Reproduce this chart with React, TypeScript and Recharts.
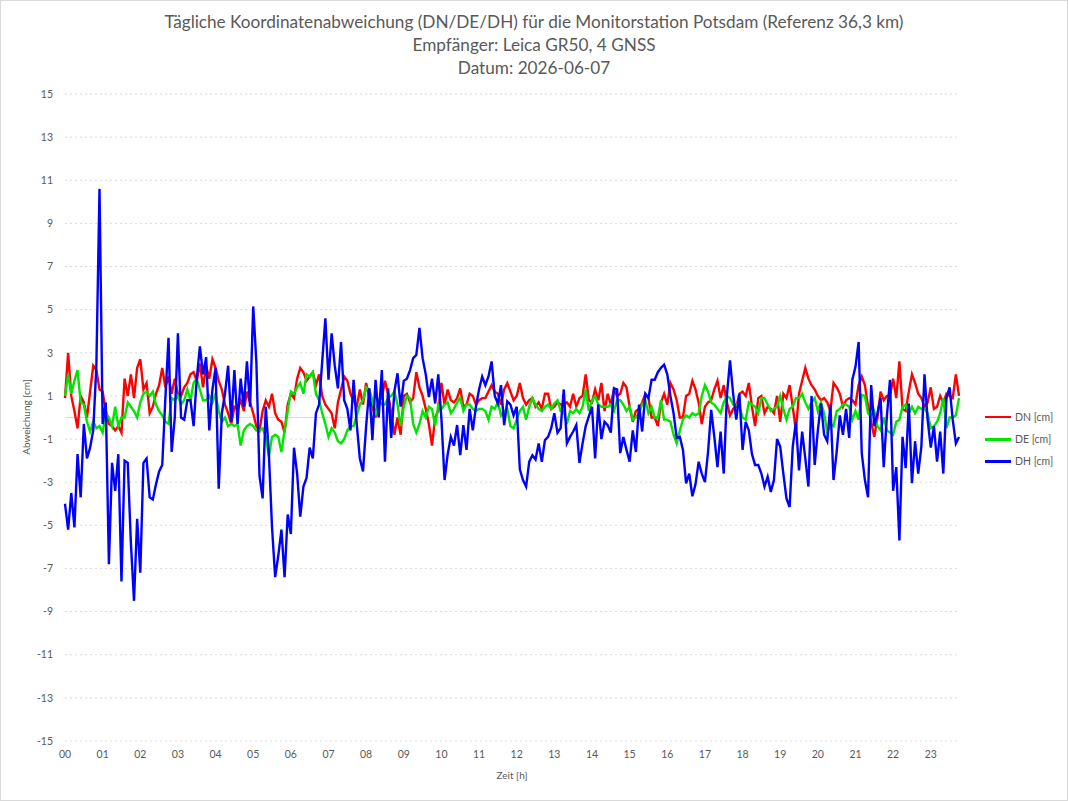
import { CartesianGrid, Line, LineChart, ReferenceLine, XAxis, YAxis } from 'recharts'

// 5-minute samples, 00:00 .. 23:45
const STEP_MIN = 5

const DN = [
  0.9, 3.0, 1.0, 0.3, -0.5, 1.0, 0.7, 0.0, 1.2, 2.4, 2.2, 1.3,
  1.2, 0.3, -0.3, -0.4, -0.6, -0.4, -0.7, 1.8, 1.0, 2.0, 0.9, 2.3,
  2.7, 1.3, 1.6, 0.2, 0.5, 1.1, 1.5, 2.3, 1.4, 1.9, 1.1, 1.8,
  1.1, 1.0, 1.4, 1.6, 2.0, 2.1, 1.7, 2.5, 1.4, 2.4, 1.8, 2.7,
  2.3, 1.7, 1.3, 0.6, 0.2, -0.3, 0.5, 0.4, 0.8, 0.3, 1.2, 0.7,
  0.2, -0.4, -0.6, 0.3, 0.8, 0.5, 1.1, 0.2, -0.1, -0.2, -0.7, 0.6,
  1.1, 0.9, 1.8, 2.3, 2.1, 1.7, 1.9, 2.1, 1.5, 2.0, 1.0, 0.6,
  0.4, 0.2, -0.5, 0.7, 1.3, 1.9, 1.7, 1.1, 0.8, 0.5, 1.3, 0.6,
  1.6, 0.9, 0.5, 0.0, 0.8, 0.9, 1.7, 1.1, 0.2, -0.8, 0.0, -0.8,
  1.0, 1.1, 0.7, 0.9, 2.1, 1.4, 1.0, 0.4, -0.3, -1.3, 0.0, 0.3,
  1.6, 0.6, 1.3, 0.8, 0.7, 0.9, 1.35, 0.5, 0.6, 1.1, 1.0, 0.6,
  0.8, 0.9, 0.9, 1.2, 1.5, 1.2, 1.1, 0.6, 1.3, 1.6, 1.2, 0.8,
  1.0, 1.6, 0.9, 0.6, 0.8, 0.9, 0.5, 0.7, 0.4, 1.1, 1.1, 0.4,
  0.5, 0.7, 0.6, 0.6, 0.7, 0.5, 1.1, 0.5, 0.9, 1.0, 2.0, 0.8,
  0.7, 1.3, 0.8, 1.6, 0.3, 1.1, 0.6, 1.3, 1.0, 1.1, 1.6, 1.4,
  0.5, -0.2, 0.3, 0.4, 0.7, 1.1, 0.9, 0.0, 0.0, -0.4, 0.7, 1.1,
  0.6, 1.6, 1.3, 0.8, 0.0, 0.0, 1.0, 1.1, 1.7, 1.3, 0.7, -0.3,
  0.5, 0.7, 0.8, 1.3, 1.7, 0.9, 1.5, 0.7, 0.1, 0.4, 0.5, 1.1,
  1.2, 1.0, 1.6, 0.5, -0.4, 0.9, 1.0, 0.2, 0.5, 0.4, 0.2, 1.0,
  -0.2, 1.1, 0.9, 1.5, 0.5, -0.6, 1.1, 1.7, 2.3, 1.8, 1.5, 1.3,
  1.0, 0.8, 0.9, 0.7, 0.3, 1.6, 1.4, 1.1, 0.5, 0.8, 0.9, 0.8,
  0.6, 1.5, 1.9, 1.5, 0.5, -0.2, -0.9, 0.0, 1.2, 0.8, 1.0, 1.0,
  1.8, 0.9, 2.6, 0.4, 0.3, 1.2, 2.0, 1.6, 1.1, 0.9, 0.5, 0.7,
  1.4, 0.4, 0.5, 1.0, 0.7, 1.1, 1.0, 0.9, 2.0, 1.0
]

const DE = [
  1.0, 2.0, 1.1, 1.7, 2.2, 0.7, 0.6, -0.2, -0.65, -0.2, -0.5, -0.4,
  -0.7, 0.2, 0.0, -0.4, 0.5, -0.4, 0.0, 0.0, 0.7, 0.5, 0.3, 0.0,
  0.7, 1.1, 1.2, 1.0, 1.2, 0.6, 0.3, 0.1, -0.2, -0.3, 0.9, 0.8,
  1.0, 0.6, 0.8, 1.3, 0.8, 1.6, 1.8, 1.3, 0.8, 0.8, 1.0, 0.7,
  1.1, 0.3, -0.2, 0.0, -0.4, -0.3, -0.4, -0.3, -1.3, -0.6, -0.4, -0.3,
  -0.4, -0.6, -0.6, -0.5, -0.9, -1.8, -0.9, -0.8, -0.9, -1.6, -0.6, 0.3,
  1.2, 1.1, 1.4, 1.6, 1.1, 2.0, 1.9, 2.1, 1.1, 0.8, 0.2, -0.3,
  -0.9, -0.5, -0.7, -1.1, -1.2, -1.0, -0.6, -0.4, -0.4, 0.1, 0.6, 0.8,
  1.4, 1.3, 0.8, 0.1, 0.8, 0.6, 0.6, 0.9, 1.0, 1.2, 0.6, -0.4,
  0.5, 1.0, 0.9, -0.3, -0.7, -0.3, 0.3, 0.0, 0.5, 0.4, -0.4, 0.6,
  0.4, 0.6, 0.7, 0.2, 0.4, 0.7, 0.9, 0.3, 0.6, 0.6, 0.4, 0.3,
  0.4, 0.4, 0.3, -0.1, 0.5, 0.4, 0.7, 0.1, 0.3, 0.4, -0.4, -0.5,
  -0.1, 0.3, 0.5, -0.1, 0.5, 0.9, 0.6, 0.4, 0.3, 0.5, 0.6, 0.4,
  0.65, 0.8, 0.3, 0.3, -0.3, 0.3, 0.2, 0.4, 0.2, 0.5, 1.3, 0.3,
  0.8, 1.0, 0.6, 0.5, 0.5, 0.5, 0.6, 0.3, 0.8, 0.8, 0.6, 0.3,
  0.5, -0.1, 0.0, 0.2, 0.6, 0.8, 0.2, 0.5, 0.0, 0.0, 0.8, -0.1,
  -0.1, -0.2, -0.8, -1.2, -0.6, -0.1, 0.1, 0.0, 0.2, 0.1, 0.2, 1.0,
  1.5, 1.2, 0.7, 0.6, 0.4, 0.2, 0.7, 1.0, 0.9, 0.6, 0.6, 0.5,
  0.0, -0.1, 0.7, 0.6, 0.5, 0.2, 0.9, 0.9, 0.6, 0.3, 0.4, 0.5,
  1.0, 0.4, -0.1, 0.4, 0.5, 0.9, 0.9, 1.1, 0.7, 0.4, 0.7, 0.9,
  0.3, 0.7, 0.2, -0.7, -0.3, -0.4, 0.3, 0.4, 0.6, 0.6, 0.5, -0.1,
  0.3, -0.1, 1.05, 1.0, 0.2, 0.1, 0.3, -0.4, -0.6, 0.0, -0.6, -0.7,
  -0.8, -0.2, -0.1, 0.5, 0.6, 0.2, 0.5, 0.2, 0.5, 0.4, 0.4, 0.2,
  -0.5, -0.4, -0.2, 0.2, 0.9, -0.5, 0.0, 0.0, 0.1, 0.9
]

const DH = [
  -4.0, -5.2, -3.5, -5.1, -1.7, -3.7, -0.3, -1.9, -1.4, -0.6, 2.4, 10.6,
  -0.3, 0.7, -6.8, -2.1, -3.4, -1.7, -7.6, -2.0, -2.1, -5.8, -8.5, -4.7,
  -7.2, -2.1, -1.9, -3.7, -3.8, -3.1, -2.5, -2.2, 0.9, 3.7, -1.6, 0.0,
  3.9, 0.0, -0.1, 0.8, 0.8, -0.4, 1.8, 3.3, 2.0, 2.8, -0.6, 1.3,
  2.3, -3.3, 0.2, 1.1, 2.4, -0.2, 2.2, -0.3, 1.8, 0.5, 2.6, 0.5,
  5.15, 2.6, -2.7, -3.75, 0.5, -1.7, -5.1, -7.4, -6.4, -5.2, -7.4, -4.5,
  -5.4, -1.4, -2.6, -4.6, -3.2, -2.8, -1.4, -1.9, 0.2, 0.6, 2.6, 4.6,
  1.75, 3.9, 2.4, 1.35, 3.5, 0.8, 0.4, -0.6, 1.75, -0.3, -1.9, -2.5,
  -0.4, 1.35, -1.05, 1.75, 0.0, 2.2, -2.05, 1.35, -0.95, 1.2, 2.05, 0.5,
  1.7, 1.8, 2.2, 2.75, 2.9, 4.15, 2.75, 2.0, 0.95, 1.8, 0.65, 2.0,
  -0.05, -2.9, -1.7, -0.9, -1.3, -0.35, -1.75, -0.35, -1.5, 0.4, -0.6, 0.5,
  1.3, 1.9, 1.5, 1.9, 2.6, 1.0, 0.65, 1.5, -0.35, 0.75, 0.6, 0.1,
  0.5, -2.4, -2.9, -3.2, -2.05, -1.75, -1.95, -1.2, -2.05, -1.05, -0.9, -0.5,
  0.2, -0.7, -0.5, 1.3, -1.2, -0.9, -0.65, -0.35, -2.1, -1.2, -0.4, 0.05,
  0.5, -1.9, 0.6, -1.0, -0.2, -0.35, -0.7, 1.35, 1.3, -1.65, -0.9, -1.5,
  -2.05, -0.6, -1.6, 0.6, -0.65, 1.1, 0.9, 1.75, 1.75, 2.1, 2.3, 2.45,
  2.0, 1.0, 0.2, -0.95, -0.9, -1.5, -3.05, -2.6, -3.65, -3.1, -2.05, -2.6,
  -3.0, -1.6, 0.35, -0.9, -2.3, -0.65, -2.6, 1.0, 2.65, 1.1, -0.1, 1.1,
  -1.5, -0.2, -0.6, -1.7, -2.2, -2.2, -2.6, -3.2, -2.75, -3.45, -2.9, -1.0,
  -1.35, -2.6, -3.75, -4.15, -1.35, -0.2, -2.45, -0.65, -1.9, -3.2, 1.0, -2.2,
  -0.6, 0.65, -0.8, -1.1, 0.6, -2.9, -1.6, 0.1, -0.8, 0.4, -0.95, 1.75,
  2.35, 3.5, -1.65, -2.9, -3.7, 1.5, -0.4, 0.2, 0.9, -2.3, 0.05, 1.75,
  -3.4, -2.3, -5.7, -0.9, -2.35, 0.65, -3.05, -1.1, -2.6, -1.35, 2.0, -0.1,
  -1.4, -0.4, -2.05, -0.65, -2.6, 0.9, 1.4, -0.1, -1.2, -0.9
]

const HOUR_TICKS = [0, 1, 2, 3, 4, 5, 6, 7, 8, 9, 10, 11, 12, 13, 14, 15, 16, 17, 18, 19, 20, 21, 22, 23]
const Y_TICKS = [-15, -13, -11, -9, -7, -5, -3, -1, 1, 3, 5, 7, 9, 11, 13, 15]

const TITLE = [
  'Tägliche Koordinatenabweichung (DN/DE/DH) für die Monitorstation Potsdam (Referenz 36,3 km)',
  'Empfänger: Leica GR50, 4 GNSS',
  'Datum: 2026-06-07'
]

const SERIES = [
  { key: 'dn', name: 'DN [cm]', color: '#ff0000' },
  { key: 'de', name: 'DE [cm]', color: '#00e400' },
  { key: 'dh', name: 'DH [cm]', color: '#0000ff' }
]

const data = DN.map((v, i) => ({ t: (i * STEP_MIN) / 60, dn: v, de: DE[i], dh: DH[i] }))

const FONT = 'Lato, "Open Sans", sans-serif'
const GREY = '#595959'

function HourTick({ x, y, payload }: any) {
  return (
    <text x={x} y={y} dy="0.71em" textAnchor="middle" fill={GREY} stroke="none" style={{ fill: GREY }}
      fontSize={10.5} fontFamily={FONT}>
      {String(payload.value).padStart(2, '0')}
    </text>
  )
}

function ValueTick({ x, y, payload }: any) {
  return (
    <text x={x} y={y} dy="0.355em" textAnchor="end" fill={GREY} stroke="none" style={{ fill: GREY }}
      fontSize={10.5} fontFamily={FONT}>
      {payload.value}
    </text>
  )
}

function YTitle() {
  return (
    <text x={26} y={417} transform="rotate(-90 26 417)" textAnchor="middle" dominantBaseline="central"
      fill={GREY} fontSize={10} fontFamily={FONT}>
      Abweichung [cm]
    </text>
  )
}

function XTitle() {
  return (
    <text x={512} y={775} textAnchor="middle" dominantBaseline="central" fill={GREY} fontSize={10} fontFamily={FONT}>
      Zeit [h]
    </text>
  )
}

export default function App() {
  return (
    <div style={{ position: 'absolute', left: 0, top: 0, width: 1068, height: 801, background: '#fff', fontFamily: FONT }}>
      <div style={{ position: 'absolute', left: 0, top: 10, width: 1068, textAlign: 'center', color: GREY, fontSize: 17.2, lineHeight: '23px' }}>
        {TITLE.map((line) => (
          <div key={line}>{line}</div>
        ))}
      </div>

      <LineChart width={1068} height={801} data={data} margin={{ top: 94, right: 109, bottom: 30, left: 0 }}
        style={{ position: 'absolute', left: 0, top: 0 }}>
        <CartesianGrid vertical={false} stroke="#d9d9d9" strokeDasharray="2 3" />
        <XAxis
          type="number"
          dataKey="t"
          domain={[0, 23.75]}
          ticks={HOUR_TICKS}
          interval={0}
          height={30}
          axisLine={false}
          tickLine={false}
          tickMargin={4}
          stroke={GREY}
          tick={<HourTick />}
          label={<XTitle />}
        />
        <YAxis
          domain={[-15, 15]}
          ticks={Y_TICKS}
          interval={0}
          width={65}
          axisLine={false}
          tickLine={false}
          tickMargin={6}
          stroke={GREY}
          tick={<ValueTick />}
          label={<YTitle />}
        />
        <ReferenceLine y={0} stroke="#d9d9d9" strokeWidth={1} />
        {SERIES.map((s) => (
          <Line key={s.key} type="linear" dataKey={s.key} name={s.name} stroke={s.color} strokeWidth={2.4}
            dot={false} isAnimationActive={false} />
        ))}
      </LineChart>

      <div style={{ position: 'absolute', left: 985, top: 406 }}>
        {SERIES.map((s) => (
          <div key={s.key} style={{ display: 'flex', alignItems: 'center', height: 22.2 }}>
            <span style={{ display: 'inline-block', width: 26, height: 2.5, background: s.color }} />
            <span style={{ marginLeft: 4, fontSize: 10.5, color: GREY }}>{s.name}</span>
          </div>
        ))}
      </div>

      <div style={{ position: 'absolute', inset: 0, border: '1px solid #d9d9d9', pointerEvents: 'none' }} />
    </div>
  )
}
